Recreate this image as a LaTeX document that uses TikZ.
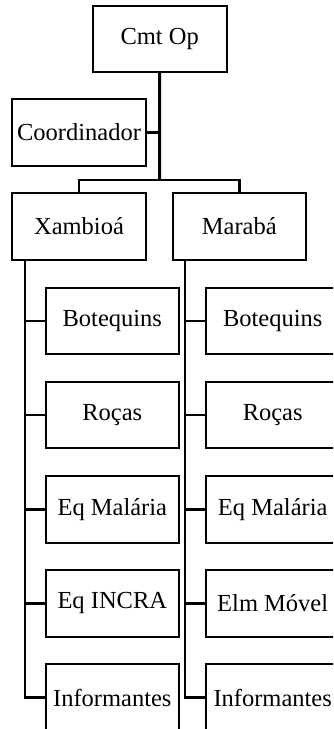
\documentclass[tikz,border=0pt]{standalone}
\usepackage{fontspec}
\setmainfont{Liberation Serif}
\usetikzlibrary{calc}
\tikzset{
  box/.style={draw, line width=2pt, minimum width=133.3pt, minimum height=66.5pt, inner sep=0pt, font=\fontsize{24.5}{28}\selectfont, fill=white},
  link/.style={line width=2.4pt},
}
\begin{document}
\begin{tikzpicture}[x=1pt,y=1pt]
\useasboundingbox (0,0) rectangle (333,-729);
\begin{scope}
\clip (0,0) rectangle (333,-729);
\node[box, minimum width=134pt, minimum height=66pt] (cmt) at (159.7,-38.7) {Cmt Op};
\node[box] (coord) at (79,-132.3) {Coordinador};
\node[box] (xam) at (79,-226.3) {Xambioá};
\node[box] (mar) at (239.3,-226.3) {Marabá};
\node[box] (l1) at (112.3,-321) {Botequins};
\node[box] (l2) at (112.3,-415) {Roças};
\node[box] (l3) at (112.3,-509.3) {Eq Malária};
\node[box] (l4) at (112.3,-603.3) {Eq INCRA};
\node[box] (l5) at (112.3,-697.5) {Informantes};
\node[box] (r1) at (272.7,-321) {Botequins};
\node[box] (r2) at (272.7,-415) {Roças};
\node[box] (r3) at (272.7,-509.3) {Eq Malária};
\node[box] (r4) at (272.7,-603.3) {Elm Móvel};
\node[box] (r5) at (272.7,-697.5) {Informantes};
\coordinate (bar) at (159.5,-180);
\draw[link, line width=3pt] (cmt.south) -- (bar);
\draw[link] (coord.east) -- (coord.east -| bar);
\draw[link] (xam.north) |- (bar) -| (mar.north);
\foreach \c in {l1,l2,l3,l4,l5}{
  \draw[link] ($(xam.south west)+(13.7,0)$) |- (\c.west);
}
\foreach \c in {r1,r2,r3,r4,r5}{
  \draw[link] ($(mar.south west)+(13.3,0)$) |- (\c.west);
}
\end{scope}
\end{tikzpicture}
\end{document}
